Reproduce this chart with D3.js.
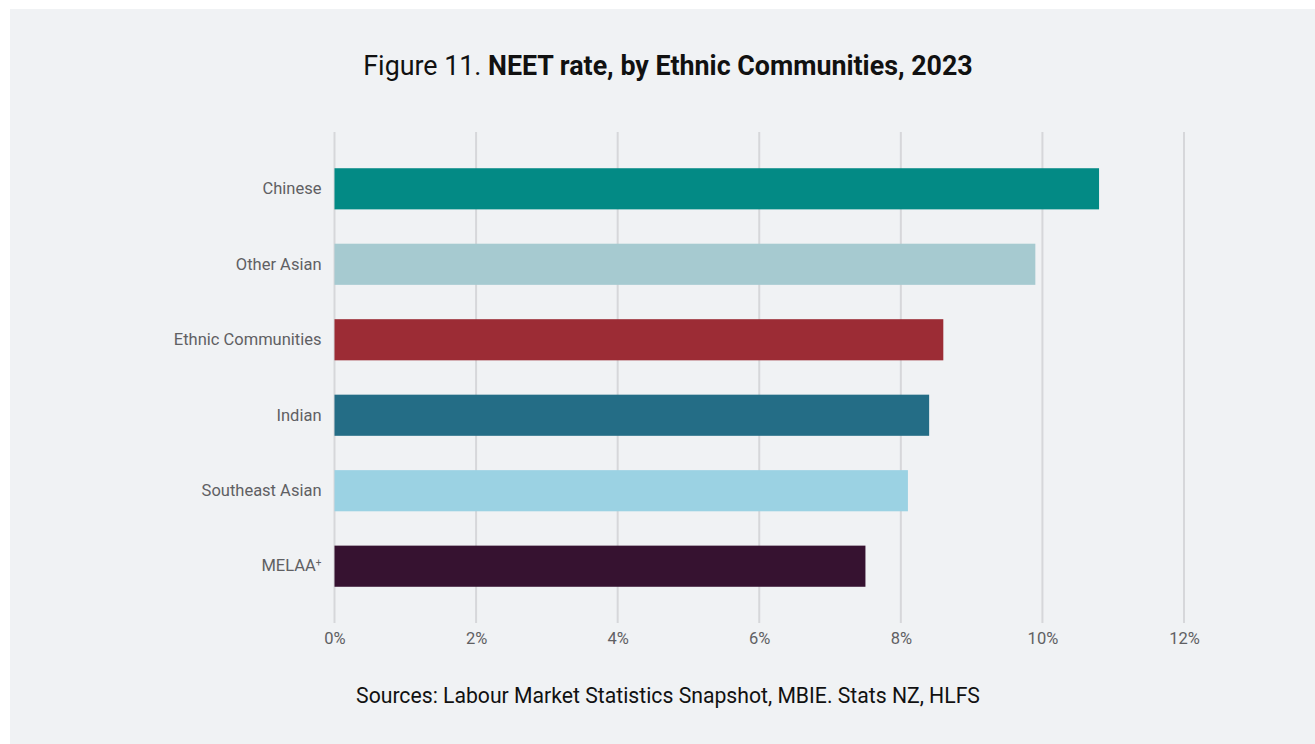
<!DOCTYPE html>
<html>
<head>
<meta charset="utf-8">
<script src="https://cdn.jsdelivr.net/npm/d3@7"></script>
<style>
  html, body { margin: 0; padding: 0; background: #ffffff; }
  svg { display: block; }
  text { font-family: Roboto, "Noto Sans", sans-serif; }
</style>
</head>
<body>
<svg id="chart" width="1315" height="744"></svg>
<script>
// NEET rate by ethnic community, 2023 (percent)
const categories = ["Chinese", "Other Asian", "Ethnic Communities", "Indian", "Southeast Asian", "MELAA"];
const values = [10.8, 9.9, 8.6, 8.4, 8.1, 7.5];
const barColors = ["#038a85", "#a6cad0", "#9c2c35", "#246d86", "#9bd2e3", "#361230"];
const tickValues = [0, 2, 4, 6, 8, 10, 12];

const svg = d3.select("#chart");

// panel background
svg.append("rect")
  .attr("x", 10).attr("y", 9)
  .attr("width", 1305).attr("height", 735)
  .attr("fill", "#f0f2f4");

const x = d3.scaleLinear().domain([0, 12]).range([334.5, 1184]);
const y = d3.scaleBand().domain(categories).range([132, 623])
  .paddingInner(0.455).paddingOuter(0.48);

// vertical gridlines
svg.append("g")
  .selectAll("line")
  .data(tickValues)
  .join("line")
  .attr("x1", d => x(d)).attr("x2", d => x(d))
  .attr("y1", 132).attr("y2", 623)
  .attr("stroke", "#d6d7da")
  .attr("stroke-width", 2);

// bars
svg.append("g")
  .selectAll("rect")
  .data(categories)
  .join("rect")
  .attr("x", x(0))
  .attr("y", d => y(d))
  .attr("width", (d, i) => x(values[i]) - x(0))
  .attr("height", y.bandwidth())
  .attr("fill", (d, i) => barColors[i]);

// x axis tick labels
const xAxis = d3.axisBottom(x)
  .tickValues(tickValues)
  .tickFormat(d => d + "%")
  .tickSize(0)
  .tickPadding(0);
const gx = svg.append("g").attr("transform", "translate(0,632)").call(xAxis);
gx.select(".domain").remove();
gx.selectAll("text")
  .attr("font-family", "Roboto, sans-serif")
  .attr("font-size", 16.5)
  .attr("fill", "#5f6063");

// y axis category labels
const yAxis = d3.axisLeft(y).tickSize(0).tickPadding(13);
const gy = svg.append("g").attr("transform", `translate(${x(0)},0)`).call(yAxis);
gy.select(".domain").remove();
gy.selectAll("text")
  .attr("font-family", "Roboto, sans-serif")
  .attr("font-size", 16.5)
  .attr("fill", "#5f6063")
  .each(function(d) {
    if (d === "MELAA") {
      const t = d3.select(this);
      t.text("MELAA");
      t.append("tspan").attr("baseline-shift", "super").attr("font-size", 10).text("+");
    }
  });

// title
const title = svg.append("text")
  .attr("x", 668).attr("y", 75)
  .attr("text-anchor", "middle")
  .attr("font-size", 26.8)
  .attr("fill", "#111111");
title.append("tspan").attr("font-weight", 400).text("Figure 11. ");
title.append("tspan").attr("font-weight", 700).text("NEET rate, by Ethnic Communities, 2023");

// source note
svg.append("text")
  .attr("x", 668).attr("y", 703)
  .attr("text-anchor", "middle")
  .attr("font-size", 21.2)
  .attr("fill", "#111111")
  .text("Sources: Labour Market Statistics Snapshot, MBIE. Stats NZ, HLFS");
</script>
</body>
</html>
